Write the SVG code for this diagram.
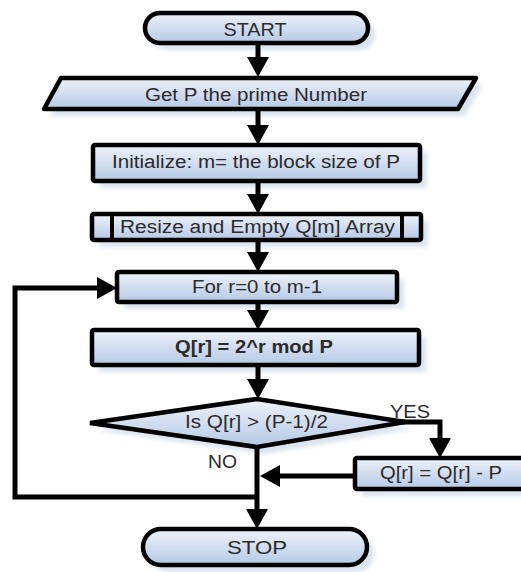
<svg xmlns="http://www.w3.org/2000/svg" width="521" height="572" viewBox="0 0 521 572">
<defs>
<linearGradient id="g" x1="0" y1="0" x2="0" y2="1">
<stop offset="0" stop-color="#edf2f9"/>
<stop offset="1" stop-color="#b5c9e5"/>
</linearGradient>
<filter id="blur" x="-10%" y="-30%" width="120%" height="160%"><feGaussianBlur stdDeviation="2"/></filter>
<marker id="ah" viewBox="0 0 20 22" markerWidth="20" markerHeight="22" refX="15" refY="11" markerUnits="userSpaceOnUse" orient="auto">
<path d="M0,0 L20,11 L0,22 z" fill="#000"/>
</marker>
</defs>
<style>
.sh{fill:#dbe3ee;filter:url(#blur)}
.box{fill:url(#g);stroke:#000;stroke-width:4.5;stroke-linejoin:round}
.dia{fill:url(#g);stroke:#000;stroke-width:4.5;stroke-linejoin:miter}
.t{font-family:"Liberation Sans",Arial,sans-serif;font-size:18px;fill:#2b2b2b}
.b{font-weight:bold}
.c{fill:none;stroke:#000;stroke-width:5;marker-end:url(#ah)}
.l{fill:none;stroke:#000;stroke-width:5}
</style>
<rect width="521" height="572" fill="#fff"/>

<g id="start">
<rect class="sh" x="152" y="20" width="223" height="30" rx="15"/>
<rect class="box" x="145" y="13" width="223" height="30" rx="15"/>
<text class="t" x="255" y="36" text-anchor="middle" textLength="63" lengthAdjust="spacingAndGlyphs">START</text>
</g>

<g id="getp">
<polygon class="sh" points="68,84 483,84 465,116 50,116"/>
<polygon class="box" points="61,78 476,78 458,109 44,109"/>
<text class="t" x="145" y="101" textLength="222" lengthAdjust="spacingAndGlyphs">Get P the prime Number</text>
</g>

<g id="init">
<rect class="sh" x="100" y="152" width="327" height="36" rx="2"/>
<rect class="box" x="93" y="145" width="327" height="36" rx="2"/>
<text class="t" x="112" y="168" textLength="288" lengthAdjust="spacingAndGlyphs">Initialize: m= the block size of P</text>
</g>

<g id="resize">
<rect class="sh" x="99" y="221" width="329" height="26" rx="2"/>
<rect class="box" x="92" y="214" width="329" height="26" rx="2"/>
<line x1="112" y1="214" x2="112" y2="240" stroke="#000" stroke-width="4"/>
<line x1="402" y1="214" x2="402" y2="240" stroke="#000" stroke-width="4"/>
<text class="t" x="120" y="233" textLength="275" lengthAdjust="spacingAndGlyphs">Resize and Empty Q[m] Array</text>
</g>

<g id="for">
<rect class="sh" x="124" y="279" width="280" height="30" rx="2"/>
<rect class="box" x="117" y="272" width="280" height="30" rx="2"/>
<text class="t" x="192" y="293" textLength="130" lengthAdjust="spacingAndGlyphs">For r=0 to m-1</text>
</g>

<g id="calc">
<rect class="sh" x="99" y="337" width="327" height="35" rx="2"/>
<rect class="box" x="92" y="330" width="327" height="35" rx="2"/>
<text class="t b" x="175" y="353" textLength="158" lengthAdjust="spacingAndGlyphs">Q[r] = 2^r mod P</text>
</g>

<g id="decision">
<polygon class="sh" points="97,430 264,406 412,429 264,454"/>
<polygon class="dia" points="90,423 257,399 405,422 257,447"/>
<text class="t" x="185" y="428" textLength="143" lengthAdjust="spacingAndGlyphs">Is Q[r] &gt; (P-1)/2</text>
</g>

<g id="sub">
<rect class="sh" x="362" y="465" width="175" height="31" rx="2"/>
<rect class="box" x="355" y="458" width="175" height="31" rx="2"/>
<text class="t" x="380" y="479" textLength="122" lengthAdjust="spacingAndGlyphs">Q[r] = Q[r] - P</text>
</g>

<g id="stop">
<rect class="sh" x="150" y="536" width="224" height="36" rx="18"/>
<rect class="box" x="143" y="529" width="224" height="36" rx="18"/>
<text class="t" x="257" y="554" text-anchor="middle" textLength="60" lengthAdjust="spacingAndGlyphs">STOP</text>
</g>

<g id="connectors">
<line class="c" x1="258" y1="44" x2="258" y2="72"/>
<line class="c" x1="258" y1="110" x2="258" y2="140"/>
<line class="c" x1="258" y1="182" x2="258" y2="209"/>
<line class="c" x1="258" y1="241" x2="258" y2="267"/>
<line class="c" x1="258" y1="303" x2="258" y2="325"/>
<line class="c" x1="258" y1="366" x2="258" y2="394"/>
<path class="c" d="M400,422 H440 V453"/>
<line class="c" x1="353" y1="476" x2="265" y2="476"/>
<line class="c" x1="257" y1="448" x2="257" y2="524"/>
<path class="c" d="M257,497 H15 V288 H112"/>
<text class="t" x="390" y="418" textLength="40" lengthAdjust="spacingAndGlyphs">YES</text>
<text class="t" x="208" y="468" textLength="29" lengthAdjust="spacingAndGlyphs">NO</text>
</g>
</svg>
